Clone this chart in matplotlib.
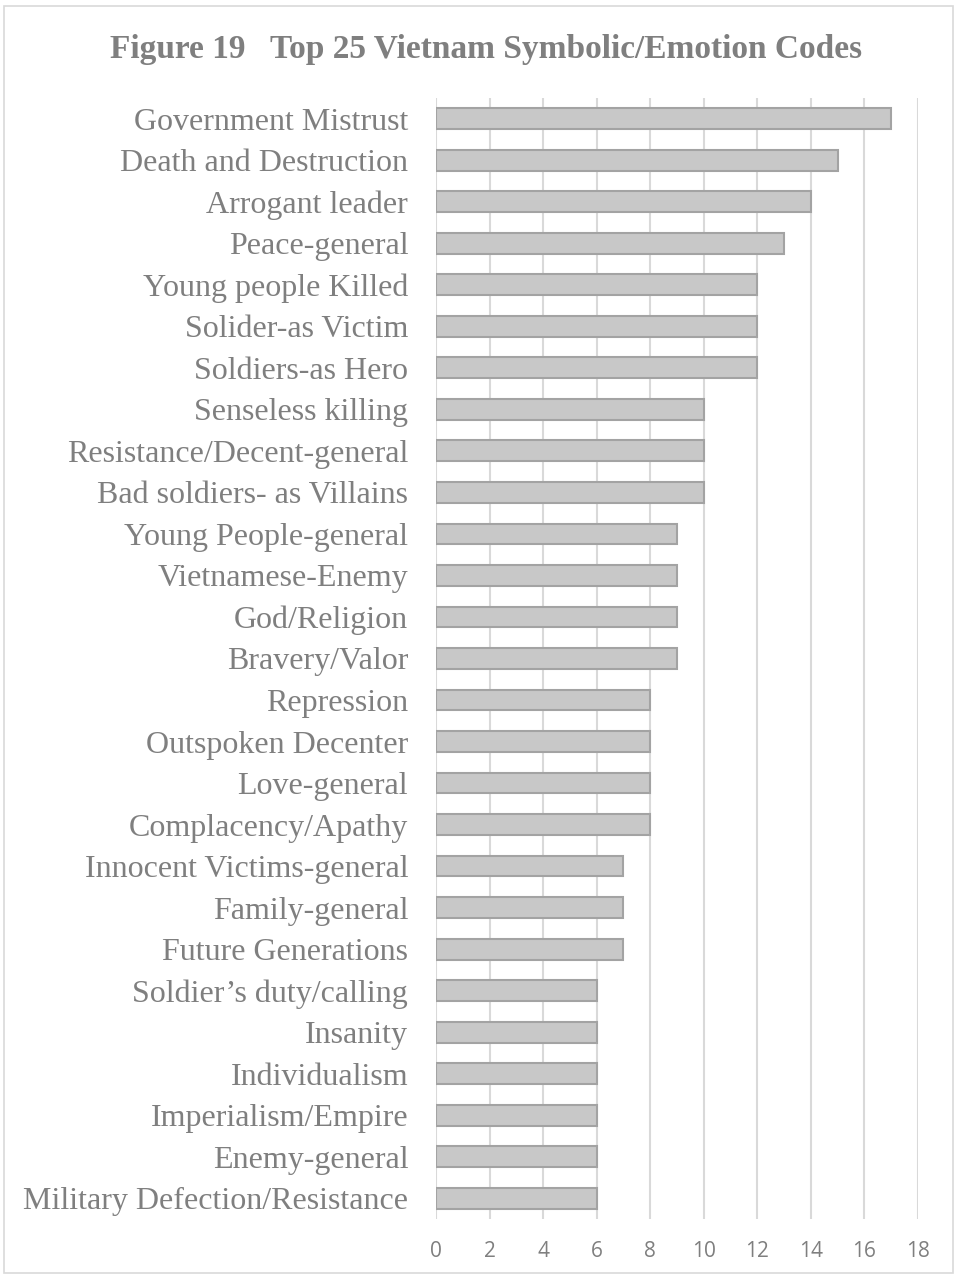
import matplotlib.pyplot as plt
from matplotlib.patches import Rectangle

# data, top to bottom as in the figure
codes = [
    "Government Mistrust", "Death and Destruction", "Arrogant leader",
    "Peace-general", "Young people Killed", "Solider-as Victim",
    "Soldiers-as Hero", "Senseless killing", "Resistance/Decent-general",
    "Bad soldiers- as Villains", "Young People-general", "Vietnamese-Enemy",
    "God/Religion", "Bravery/Valor", "Repression", "Outspoken Decenter",
    "Love-general", "Complacency/Apathy", "Innocent Victims-general",
    "Family-general", "Future Generations", "Soldier\u2019s duty/calling",
    "Insanity", "Individualism", "Imperialism/Empire", "Enemy-general",
    "Military Defection/Resistance",
]
counts = [17, 15, 14, 13, 12, 12, 12, 10, 10, 10, 9, 9, 9, 9,
          8, 8, 8, 8, 7, 7, 7, 6, 6, 6, 6, 6, 6]
xticks = list(range(0, 20, 2))

grey = "#7f7f7f"

fig = plt.figure(figsize=(9.57, 12.77), dpi=100)
ax = fig.add_axes([0.4556, 0.0454, 0.5036, 0.8779])

y = list(range(len(codes)))
ax.barh(y, counts, height=0.5, color="#c8c8c8", edgecolor="#a3a3a3",
        linewidth=1.5, zorder=3)

ax.set_xlim(0, 18)
ax.set_ylim(len(codes) - 0.5, -0.5)
ax.set_xticks(xticks)
ax.set_yticks(y)
ax.set_yticklabels(codes, fontfamily="Liberation Serif", fontsize=23, color=grey)
ax.tick_params(axis="y", length=0, pad=20)
ax.tick_params(axis="x", length=0, pad=16, labelsize=15, labelcolor=grey)
for lbl in ax.get_xticklabels():
    lbl.set_fontfamily("Open Sans")

ax.grid(axis="x", color="#d9d9d9", linewidth=1.5, zorder=0)
for s in ax.spines.values():
    s.set_visible(False)

fig.text(0.508, 0.961, "Figure 19   Top 25 Vietnam Symbolic/Emotion Codes",
         ha="center", va="center", fontfamily="Liberation Serif",
         fontweight="bold", fontsize=24, color=grey)

# light frame round the chart area
fig.patches.append(Rectangle((0.004, 0.003), 0.992, 0.992, transform=fig.transFigure,
                             fill=False, edgecolor="#d9d9d9", linewidth=1.2))

plt.savefig("out.png", dpi=100)
